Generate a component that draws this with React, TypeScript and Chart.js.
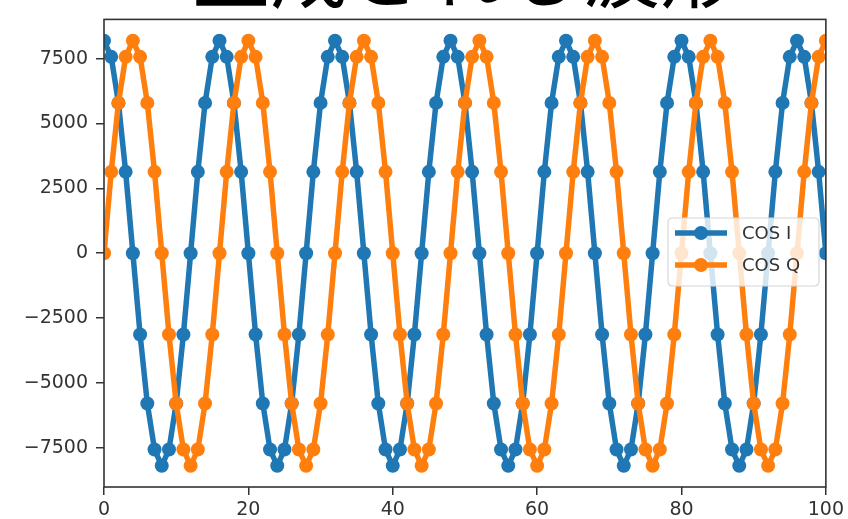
import React, { useEffect, useRef } from "react";
import { Chart, registerables } from "chart.js";

Chart.register(...registerables);

const titleText = "生成される波形";
const seriesNames = ["COS I", "COS Q"];
const seriesColors = ["#1f77b4", "#ff7f0e"];

const cosI = [
  8192, 7568, 5793, 3135, 0, -3135, -5793, -7568, -8192, -7568, -5793, -3135, 0, 3135, 5793, 7568,
  8192, 7568, 5793, 3135, 0, -3135, -5793, -7568, -8192, -7568, -5793, -3135, 0, 3135, 5793, 7568,
  8192, 7568, 5793, 3135, 0, -3135, -5793, -7568, -8192, -7568, -5793, -3135, 0, 3135, 5793, 7568,
  8192, 7568, 5793, 3135, 0, -3135, -5793, -7568, -8192, -7568, -5793, -3135, 0, 3135, 5793, 7568,
  8192, 7568, 5793, 3135, 0, -3135, -5793, -7568, -8192, -7568, -5793, -3135, 0, 3135, 5793, 7568,
  8192, 7568, 5793, 3135, 0, -3135, -5793, -7568, -8192, -7568, -5793, -3135, 0, 3135, 5793, 7568,
  8192, 7568, 5793, 3135, 0,
];

const cosQ = [
  0, 3135, 5793, 7568, 8192, 7568, 5793, 3135, 0, -3135, -5793, -7568, -8192, -7568, -5793, -3135,
  0, 3135, 5793, 7568, 8192, 7568, 5793, 3135, 0, -3135, -5793, -7568, -8192, -7568, -5793, -3135,
  0, 3135, 5793, 7568, 8192, 7568, 5793, 3135, 0, -3135, -5793, -7568, -8192, -7568, -5793, -3135,
  0, 3135, 5793, 7568, 8192, 7568, 5793, 3135, 0, -3135, -5793, -7568, -8192, -7568, -5793, -3135,
  0, 3135, 5793, 7568, 8192, 7568, 5793, 3135, 0, -3135, -5793, -7568, -8192, -7568, -5793, -3135,
  0, 3135, 5793, 7568, 8192, 7568, 5793, 3135, 0, -3135, -5793, -7568, -8192, -7568, -5793, -3135,
  0, 3135, 5793, 7568, 8192,
];

const xTicks = [0, 20, 40, 60, 80, 100];
const yTicks = [-7500, -5000, -2500, 0, 2500, 5000, 7500];
const xRange = [0, 100];
const yRange = [-9011, 9011];

const TICK_FONT = "DejaVu Sans";

const framePlugin = {
  id: "frameAndLegend",
  afterDatasetsDraw(chart: any) {
    const { ctx, chartArea } = chart;
    const { left, right, top, bottom } = chartArea;
    ctx.save();
    // frame
    ctx.strokeStyle = "#333333";
    ctx.lineWidth = 1.6;
    ctx.strokeRect(left, top, right - left, bottom - top);

    // legend
    const bx = 668, by = 218, bw = 151, bh = 68, r = 5;
    ctx.beginPath();
    ctx.moveTo(bx + r, by);
    ctx.lineTo(bx + bw - r, by);
    ctx.quadraticCurveTo(bx + bw, by, bx + bw, by + r);
    ctx.lineTo(bx + bw, by + bh - r);
    ctx.quadraticCurveTo(bx + bw, by + bh, bx + bw - r, by + bh);
    ctx.lineTo(bx + r, by + bh);
    ctx.quadraticCurveTo(bx, by + bh, bx, by + bh - r);
    ctx.lineTo(bx, by + r);
    ctx.quadraticCurveTo(bx, by, bx + r, by);
    ctx.closePath();
    ctx.fillStyle = "rgba(255,255,255,0.8)";
    ctx.fill();
    ctx.strokeStyle = "#d6d6d6";
    ctx.lineWidth = 1.2;
    ctx.stroke();

    const rows = [233, 265];
    seriesNames.forEach((name, i) => {
      const y = rows[i];
      ctx.strokeStyle = seriesColors[i];
      ctx.lineWidth = 5.5;
      ctx.lineCap = "butt";
      ctx.beginPath();
      ctx.moveTo(675, y);
      ctx.lineTo(727, y);
      ctx.stroke();
      ctx.fillStyle = seriesColors[i];
      ctx.beginPath();
      ctx.arc(701, y, 7, 0, Math.PI * 2);
      ctx.fill();
      ctx.fillStyle = "#333333";
      ctx.font = `18px "${TICK_FONT}"`;
      ctx.textBaseline = "middle";
      ctx.textAlign = "left";
      ctx.fillText(name, 742, y + 1);
    });

    // title (partially cut off at the top, as in the reference)
    ctx.fillStyle = "#000000";
    ctx.font = `78px "Noto Sans CJK JP"`;
    ctx.textAlign = "center";
    ctx.textBaseline = "alphabetic";
    ctx.fillText(titleText, (left + right) / 2, 2);
    ctx.restore();
  },
};

export default function App() {
  const canvasRef = useRef<HTMLCanvasElement | null>(null);

  useEffect(() => {
    const canvas = canvasRef.current;
    if (!canvas) return;
    const mk = (arr: number[]) => arr.map((y, i) => ({ x: i, y }));
    const chart = new Chart(canvas, {
      type: "line",
      data: {
        datasets: [
          {
            label: seriesNames[0],
            data: mk(cosI),
            borderColor: seriesColors[0],
            backgroundColor: seriesColors[0],
            borderWidth: 5.5,
            pointRadius: 7,
            pointHoverRadius: 7,
            pointBorderWidth: 0,
            tension: 0,
            clip: 0,
            order: 1,
          },
          {
            label: seriesNames[1],
            data: mk(cosQ),
            borderColor: seriesColors[1],
            backgroundColor: seriesColors[1],
            borderWidth: 5.5,
            pointRadius: 7,
            pointHoverRadius: 7,
            pointBorderWidth: 0,
            tension: 0,
            clip: 0,
            order: 0,
          },
        ],
      },
      options: {
        responsive: false,
        animation: false,
        events: [],
        layout: { padding: { left: 0, right: 18, top: 16, bottom: 0 } },
        plugins: {
          legend: { display: false },
          title: { display: false },
          tooltip: { enabled: false },
        },
        scales: {
          x: {
            type: "linear",
            min: xRange[0],
            max: xRange[1],
            afterBuildTicks: (s: any) => {
              s.ticks = xTicks.map((v) => ({ value: v }));
            },
            afterFit: (s: any) => {
              s.height = 32;
            },
            grid: {
              display: true,
              drawOnChartArea: false,
              drawTicks: true,
              tickLength: 8,
              color: "#333333",
              lineWidth: 1.5,
            },
            border: { display: false },
            ticks: {
              padding: 4,
              color: "#333333",
              font: { family: TICK_FONT, size: 19 },
              maxRotation: 0,
              callback: (v: any) => String(v),
            },
          },
          y: {
            type: "linear",
            min: yRange[0],
            max: yRange[1],
            afterBuildTicks: (s: any) => {
              s.ticks = yTicks.map((v) => ({ value: v }));
            },
            afterFit: (s: any) => {
              s.width = 104;
            },
            grid: {
              display: true,
              drawOnChartArea: false,
              drawTicks: true,
              tickLength: 8,
              color: "#333333",
              lineWidth: 1.5,
            },
            border: { display: false },
            ticks: {
              padding: 8,
              color: "#333333",
              font: { family: TICK_FONT, size: 19 },
              callback: (v: any) => String(v).replace("-", "\u2212"),
            },
          },
        },
      },
      plugins: [framePlugin],
    });
    return () => chart.destroy();
  }, []);

  return (
    <div style={{ position: "fixed", left: 0, top: 0, width: 848, height: 519, background: "#fff" }}>
      <canvas ref={canvasRef} width={848} height={519} style={{ display: "block" }} />
    </div>
  );
}
